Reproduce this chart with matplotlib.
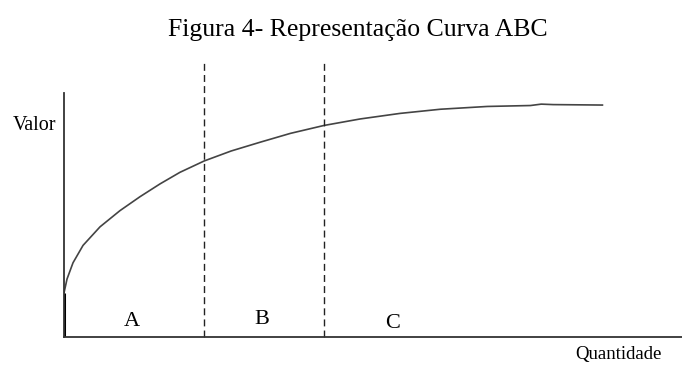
import matplotlib
matplotlib.use('Agg')
import matplotlib.pyplot as plt

# curve ABC (quantidade x valor)
quantidade = [0, 0.56, 1.67, 3.53, 6.68, 10.39, 14.1, 17.8, 21.5, 26.0, 31.0,
              36.4, 42.0, 48.2, 54.9, 62.3, 69.8, 78.5, 86.5, 88.5, 90.7, 100]
valor = [19.0, 25.0, 32.0, 39.5, 47.5, 54.5, 60.5, 66.0, 71.0, 75.9, 80.2,
         84.0, 87.8, 91.2, 94.0, 96.4, 98.2, 99.4, 99.8, 100.4, 100.2, 100.0]

limites = [26.0, 48.2]          # fronteiras A|B e B|C
classes = ['A', 'B', 'C']
pos_classes = [12.6, 36.7, 61.0]
alt_classes = [2.5, 3.5, 1.8]

fig = plt.figure(figsize=(6.82, 3.65), dpi=100)
ax = fig.add_axes([64 / 682, 28 / 365, 618 / 682, 244 / 365])
ax.set_xlim(0, 114.6)
ax.set_ylim(0, 105.2)

serif = ['Liberation Serif', 'DejaVu Serif']

ax.plot(quantidade, valor, color='#444444', linewidth=1.2, solid_capstyle='butt')
ax.plot([0, 0], [0, valor[0]], color='black', linewidth=2.2, solid_capstyle='butt')

for xl in limites:
    ax.plot([xl, xl], [0, 118.1], color='#222222', linewidth=1.0,
            linestyle=(0, (5, 3)), clip_on=False)

for c, xp, yp in zip(classes, pos_classes, alt_classes):
    ax.text(xp, yp, c, fontsize=16, family=serif, ha='center', va='bottom')

for s in ['top', 'right']:
    ax.spines[s].set_visible(False)
for s in ['left', 'bottom']:
    ax.spines[s].set_linewidth(1.3)
    ax.spines[s].set_color('#333333')
ax.set_xticks([])
ax.set_yticks([])

fig.text(35 / 682, 1 - 125 / 365, 'Valor', fontsize=14.5, family=serif,
         ha='center', va='center')
fig.text(618 / 682, 1 - 355 / 365, 'Quantidade', fontsize=13.5, family=serif,
         ha='center', va='center')
fig.text(358 / 682, 1 - 30 / 365, 'Figura 4- Representação Curva ABC',
         fontsize=18.5, family=serif, ha='center', va='center')

fig.savefig('out.png', dpi=100)
